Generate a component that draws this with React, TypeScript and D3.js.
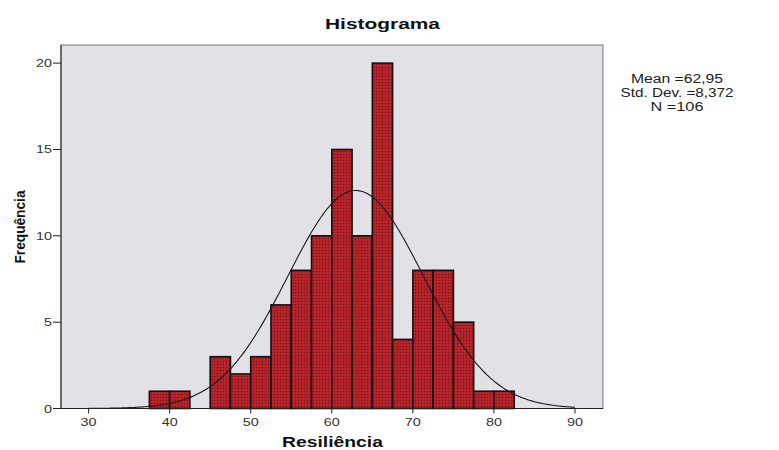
import React from "react";
import * as d3 from "d3";

const binStarts = [37.5, 40, 42.5, 45, 47.5, 50, 52.5, 55, 57.5, 60, 62.5, 65, 67.5, 70, 72.5, 75, 77.5, 80];
const counts = [1, 1, 0, 3, 2, 3, 6, 8, 10, 15, 10, 20, 4, 8, 8, 5, 1, 1];
const binWidth = 2.5;
const xTicks = [30, 40, 50, 60, 70, 80, 90];
const yTicks = [0, 5, 10, 15, 20];
const mean = 62.95;
const sd = 8.372;
const n = 106;
const statLines = ["Mean =62,95", "Std. Dev. =8,372", "N =106"];
const statWidths = [92, 113, 53];

export default function App() {
  const W = 779, H = 450;
  const left = 61, right = 603, top = 45, bottom = 408.5;
  const x = d3.scaleLinear().domain([26.6, 93.45]).range([left, right]);
  const y = d3.scaleLinear().domain([0, 21.05]).range([bottom, top]);

  const curvePts: [number, number][] = [];
  for (let v = 30; v <= 90.001; v += 0.25) {
    const pdf = Math.exp(-0.5 * ((v - mean) / sd) ** 2) / (sd * Math.sqrt(2 * Math.PI));
    curvePts.push([v, pdf * n * binWidth]);
  }
  const line = d3.line<[number, number]>().x(d => x(d[0])).y(d => y(d[1])).curve(d3.curveBasis);

  const font = "Arial, 'Liberation Sans', sans-serif";
  return (
    <svg width={W} height={H} style={{ position: "absolute", left: 0, top: 0 }}>
      <defs>
        <pattern id="dots" width="3" height="3" patternUnits="userSpaceOnUse">
          <rect width="3" height="3" fill="#b8242c" />
          <circle cx="1.5" cy="1.5" r="0.8" fill="#7a1418" />
        </pattern>
      </defs>
      <rect width={W} height={H} fill="#fff" />
      <text x={382.5} y={29} textAnchor="middle" fontFamily={font} fontWeight="bold" fontSize={15} fill="#111"
        textLength={115} lengthAdjust="spacingAndGlyphs">Histograma</text>
      <rect x={left} y={top} width={right - left} height={bottom - top} fill="#e2e1e6" stroke="#777" strokeWidth={1} />
      {binStarts.map((s, i) => counts[i] > 0 ? (
        <rect key={i} x={x(s)} y={y(counts[i])} width={x(s + binWidth) - x(s)} height={y(0) - y(counts[i])}
          fill="url(#dots)" stroke="#111" strokeWidth={1.6} />
      ) : null)}
      <path d={line(curvePts) || ""} fill="none" stroke="#1a1a1a" strokeWidth={1.1} />
      <line x1={left} x2={left} y1={top} y2={bottom} stroke="#222" strokeWidth={1} />
      <line x1={left} x2={right} y1={bottom} y2={bottom} stroke="#222" strokeWidth={1} />
      {yTicks.map(t => (
        <g key={t}>
          <line x1={left - 8} x2={left} y1={y(t)} y2={y(t)} stroke="#222" />
          <text x={left - 9} y={y(t) + 4} textAnchor="end" fontFamily={font} fontSize={11} fill="#333"
            textLength={String(t).length * 8} lengthAdjust="spacingAndGlyphs">{t}</text>
        </g>
      ))}
      {xTicks.map(t => (
        <g key={t}>
          <line x1={x(t)} x2={x(t)} y1={bottom} y2={bottom + 5} stroke="#222" />
          <text x={x(t)} y={bottom + 17} textAnchor="middle" fontFamily={font} fontSize={11} fill="#333"
            textLength={String(t).length * 8} lengthAdjust="spacingAndGlyphs">{t}</text>
        </g>
      ))}
      <text x={332.5} y={447} textAnchor="middle" fontFamily={font} fontWeight="bold" fontSize={15} fill="#111"
        textLength={101} lengthAdjust="spacingAndGlyphs">Resiliência</text>
      <text transform="translate(25,227) rotate(-90)" textAnchor="middle" fontFamily={font} fontWeight="bold" fontSize={14} fill="#111"
        textLength={73} lengthAdjust="spacingAndGlyphs">Frequência</text>
      {statLines.map((s, i) => (
        <text key={i} x={677} y={83 + i * 14} textAnchor="middle" fontFamily={font} fontSize={12.5} fill="#222"
          textLength={statWidths[i]} lengthAdjust="spacingAndGlyphs">{s}</text>
      ))}
    </svg>
  );
}
